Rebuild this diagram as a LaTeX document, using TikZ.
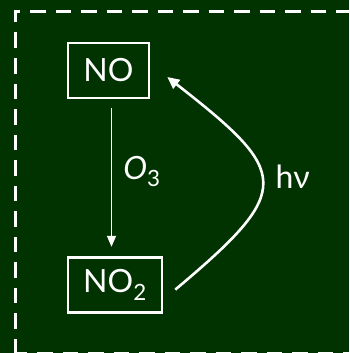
\documentclass[tikz,border=0pt]{standalone}
\usepackage{fontspec}
\setmainfont{Lato}
\usetikzlibrary{arrows.meta, positioning}
\definecolor{board}{RGB}{0,51,0}

\begin{document}
\begin{tikzpicture}[
    x=1pt, y=-1pt,
    box/.style={draw=white, line width=2.6pt, text=white, minimum height=55pt, inner sep=0pt, font=\fontsize{32}{38}\selectfont},
    arrow/.style={-{Triangle[length=11pt, width=9pt]}, white, line width=1.6pt},
    cycle/.style={-{Triangle[length=12pt, width=11pt]}, white, line width=2.6pt},
    tag/.style={text=white, inner sep=0pt, font=\fontsize{32}{38}\selectfont},
    frame/.style={white, line width=3pt, dash pattern=on 15.5pt off 10pt}
]
\fill[board] (0,0) rectangle (349,353);
\useasboundingbox (0,0) rectangle (349,353);
\begin{scope}
\clip (0,0) rectangle (349,353);
\draw[frame, dash phase=0.7pt] (15,353.3) -- (15,12) -- (370,12);
\draw[frame, dash phase=3.25pt] (15,353.3) -- (370,353.3);
\end{scope}

\node[box, minimum width=81pt] (no) at (108.5,70.5) {NO};
\node[box, minimum width=94pt, below=157pt of no.south west, anchor=north west] (no2) {NO\textsubscript{2}};

\draw[arrow, shorten <=9pt, shorten >=9.5pt] ([xshift=3pt]no.south) -- ([xshift=-3.5pt]no2.north)
    node[tag, right, pos=0.46, xshift=11pt] {{\itshape O}\textsubscript{3}};
\draw[cycle] ([shift={(12,4.5)}]no2.east) .. controls +(119.5,-100.3) and +(122.9,96.1) .. ([shift={(17,6.5)}]no.east)
    node[tag, right, pos=0.5, xshift=12pt, yshift=5pt] {hν};
\end{tikzpicture}
\end{document}
